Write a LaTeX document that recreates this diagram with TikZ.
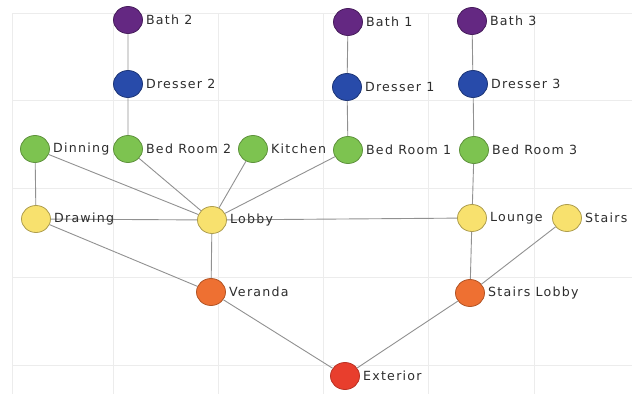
\documentclass[tikz,border=0pt]{standalone}
\usepackage{fontspec}
\usetikzlibrary{shapes.geometric}
\setmainfont{DejaVu Sans}[LetterSpace=10]
\begin{document}
\begin{tikzpicture}[x=1pt,y=-1pt,
  room/.style={ellipse, draw, line width=0.8pt, minimum width=29pt, minimum height=27pt, inner sep=0pt},
  bath/.style={room, fill=bathc, draw=bathc!70!black},
  dresser/.style={room, fill=dresserc, draw=dresserc!70!black},
  bed/.style={room, fill=bedc, draw=bedc!75!black},
  hall/.style={room, fill=hallc, draw=hallc!70!black},
  porch/.style={room, fill=porchc, draw=porchc!75!black},
  outside/.style={room, fill=outc, draw=outc!80!black},
  tag/.style={anchor=west, inner sep=0pt, font=\fontsize{12.6}{15}\selectfont, text=textc},
  link/.style={draw=linkc, line width=0.9pt},
  gridline/.style={draw=gridc, line width=0.8pt}]
\definecolor{bathc}{RGB}{100,40,130}
\definecolor{dresserc}{RGB}{40,75,170}
\definecolor{bedc}{RGB}{125,195,80}
\definecolor{hallc}{RGB}{248,225,110}
\definecolor{porchc}{RGB}{238,112,50}
\definecolor{outc}{RGB}{232,62,45}
\definecolor{textc}{RGB}{45,45,45}
\definecolor{linkc}{RGB}{145,145,145}
\definecolor{gridc}{RGB}{236,236,236}
\useasboundingbox[fill=white] (0,0) rectangle (632,394);
% background grid
\foreach \gx in {12,113,218,323,428,534}
  \draw[gridline] (\gx,13) -- (\gx,394);
\foreach \gy in {13,100,188,277,365}
  \draw[gridline] (12,\gy) -- (632,\gy);
% rooms
\node[bath] (bath2) at (128,20) {};
\node[dresser] (dres2) at (128,84) {};
\node[bed] (bed2) at (128,149) {};
\node[bed] (din) at (35,149) {};
\node[bed] (kit) at (253,149) {};
\node[bed] (bed1) at (348,150) {};
\node[bath] (bath1) at (348,22) {};
\node[dresser] (dres1) at (347,87) {};
\node[bath] (bath3) at (472,21) {};
\node[dresser] (dres3) at (473,84) {};
\node[bed] (bed3) at (474,150) {};
\node[hall] (draw) at (36,219) {};
\node[hall] (lob) at (212,220) {};
\node[hall] (lou) at (472,218) {};
\node[hall] (sta) at (567,218) {};
\node[porch] (ver) at (211,292) {};
\node[porch] (slob) at (470,293) {};
\node[outside] (ext) at (345,376) {};
% connections
\path[link] (bath2) -- (dres2) (dres2) -- (bed2)
  (bath1) -- (dres1) (dres1) -- (bed1)
  (bath3) -- (dres3) (dres3) -- (bed3) (bed3) -- (lou)
  (din) -- (draw) (din) -- (lob) (bed2) -- (lob) (kit) -- (lob) (bed1) -- (lob)
  (draw) -- (lob) (lob) -- (lou) (lob) -- (ver) (draw) -- (ver)
  (ver) -- (ext) (lou) -- (slob) (sta) -- (slob) (slob) -- (ext);
% labels
\node[tag] at ([xshift=3pt]bath2.east) {Bath 2};
\node[tag] at ([xshift=3pt]dres2.east) {Dresser 2};
\node[tag] at ([xshift=3pt]bed2.east) {Bed Room 2};
\node[tag] at ([xshift=3pt]din.east) {Dinning};
\node[tag] at ([xshift=3pt]kit.east) {Kitchen};
\node[tag] at ([xshift=3pt]bed1.east) {Bed Room 1};
\node[tag] at ([xshift=3pt]bath1.east) {Bath 1};
\node[tag] at ([xshift=3pt]dres1.east) {Dresser 1};
\node[tag] at ([xshift=3pt]bath3.east) {Bath 3};
\node[tag] at ([xshift=3pt]dres3.east) {Dresser 3};
\node[tag] at ([xshift=3pt]bed3.east) {Bed Room 3};
\node[tag] at ([xshift=3pt]draw.east) {Drawing};
\node[tag] at ([xshift=3pt]lob.east) {Lobby};
\node[tag] at ([xshift=3pt]lou.east) {Lounge};
\node[tag] at ([xshift=3pt]sta.east) {Stairs};
\node[tag] at ([xshift=3pt]ver.east) {Veranda};
\node[tag] at ([xshift=3pt]slob.east) {Stairs Lobby};
\node[tag] at ([xshift=3pt]ext.east) {Exterior};
\end{tikzpicture}
\end{document}
